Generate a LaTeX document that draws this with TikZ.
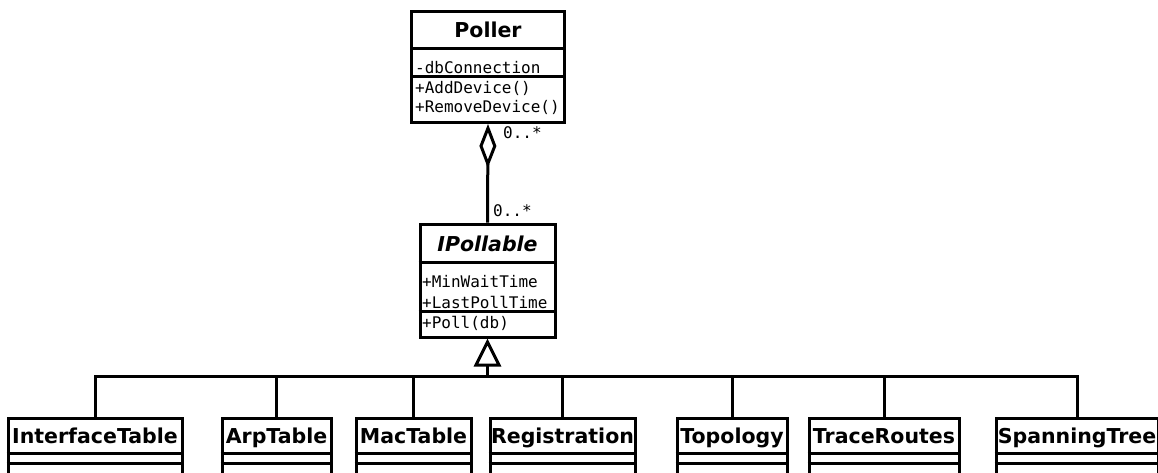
\documentclass[tikz,border=0pt]{standalone}
\usepackage{fontspec}
\newfontfamily\classfont{DejaVu Sans}
\newfontfamily\memberfont{DejaVu Sans Mono}
\usetikzlibrary{arrows.meta}
\tikzset{
  umlbox/.style={draw, line width=3pt, rectangle, inner sep=0pt},
  classname/.style={anchor=base, inner sep=0pt, font=\classfont\bfseries\fontsize{20.5}{24}\selectfont},
  member/.style={anchor=base west, inner sep=0pt, font=\memberfont\fontsize{16}{19}\selectfont},
  link/.style={line width=3pt},
}
\begin{document}
\begin{tikzpicture}[x=1pt,y=-1pt]
  \useasboundingbox (0,0) rectangle (1158,472);
  \fill[white] (0,0) rectangle (1158,472);
  \clip (0,0) rectangle (1158,472);

  % Poller class
  \node[umlbox, minimum width=153pt, minimum height=111pt] (poller) at (488,67) {};
  \node[classname] (poller-name) at (488,37) {Poller};
  \draw[link] (poller.west |- 0,48) -- (poller.east |- 0,48);
  \draw[link] (poller.west |- 0,76.5) -- (poller.east |- 0,76.5);
  \node[member] (poller-a1) at (415,73.8) {\underline{-dbConnection}};
  \node[member] (poller-m1) at (415,93) {+AddDevice()};
  \node[member] (poller-m2) at (415,112) {+RemoveDevice()};

  % IPollable interface
  \node[umlbox, minimum width=135pt, minimum height=113pt] (ipoll) at (487.5,280.5) {};
  \node[classname, font=\classfont\bfseries\itshape\fontsize{20.5}{24}\selectfont] (ipoll-name) at (487.5,251) {IPollable};
  \draw[link] (ipoll.west |- 0,262) -- (ipoll.east |- 0,262);
  \draw[link] (ipoll.west |- 0,311.5) -- (ipoll.east |- 0,311.5);
  \node[member] (ipoll-a1) at (422,287) {+MinWaitTime};
  \node[member] (ipoll-a2) at (422,308.8) {\underline{+LastPollTime}};
  \node[member] (ipoll-m1) at (422,328) {+Poll(db)};

  % aggregation Poller <>-- IPollable
  \draw[link, {Diamond[open, length=44pt, width=17pt]}-] (poller.south) -- (ipoll.north);
  \node[member] (mult-top) at (503,138) {0..*};
  \node[member] (mult-bot) at (493,216) {0..*};

  % generalization tree
  \coordinate (bar) at (487.5,376);
  \draw[link, -{Triangle[open, length=28pt, width=27pt]}] (bar) -- (ipoll.south);

  \foreach \nm/\cx/\w/\txt in {itab/95/174/InterfaceTable, arp/276.5/109/ArpTable,
      mac/413.5/115/MacTable, reg/562.5/145/Registration, topo/732/110/Topology,
      trace/884/150/TraceRoutes, span/1077/162/SpanningTree} {
    \node[umlbox, minimum width=\w pt, minimum height=80pt, anchor=north] (\nm) at (\cx,416.5) {};
    \draw[link] (\nm.west |- 0,453) -- (\nm.east |- 0,453);
    \draw[link] (\nm.west |- 0,463) -- (\nm.east |- 0,463);
    \node[classname] (\nm-name) at (\cx,443) {\txt};
  }
  % outer branches with the bar, then the inner drops
  \draw[link] (itab.north) |- (bar) -| (span.north);
  \foreach \nm in {arp, mac, reg, topo, trace}
    \draw[link] (\nm.north) -- (\nm.north |- bar);
\end{tikzpicture}
\end{document}
